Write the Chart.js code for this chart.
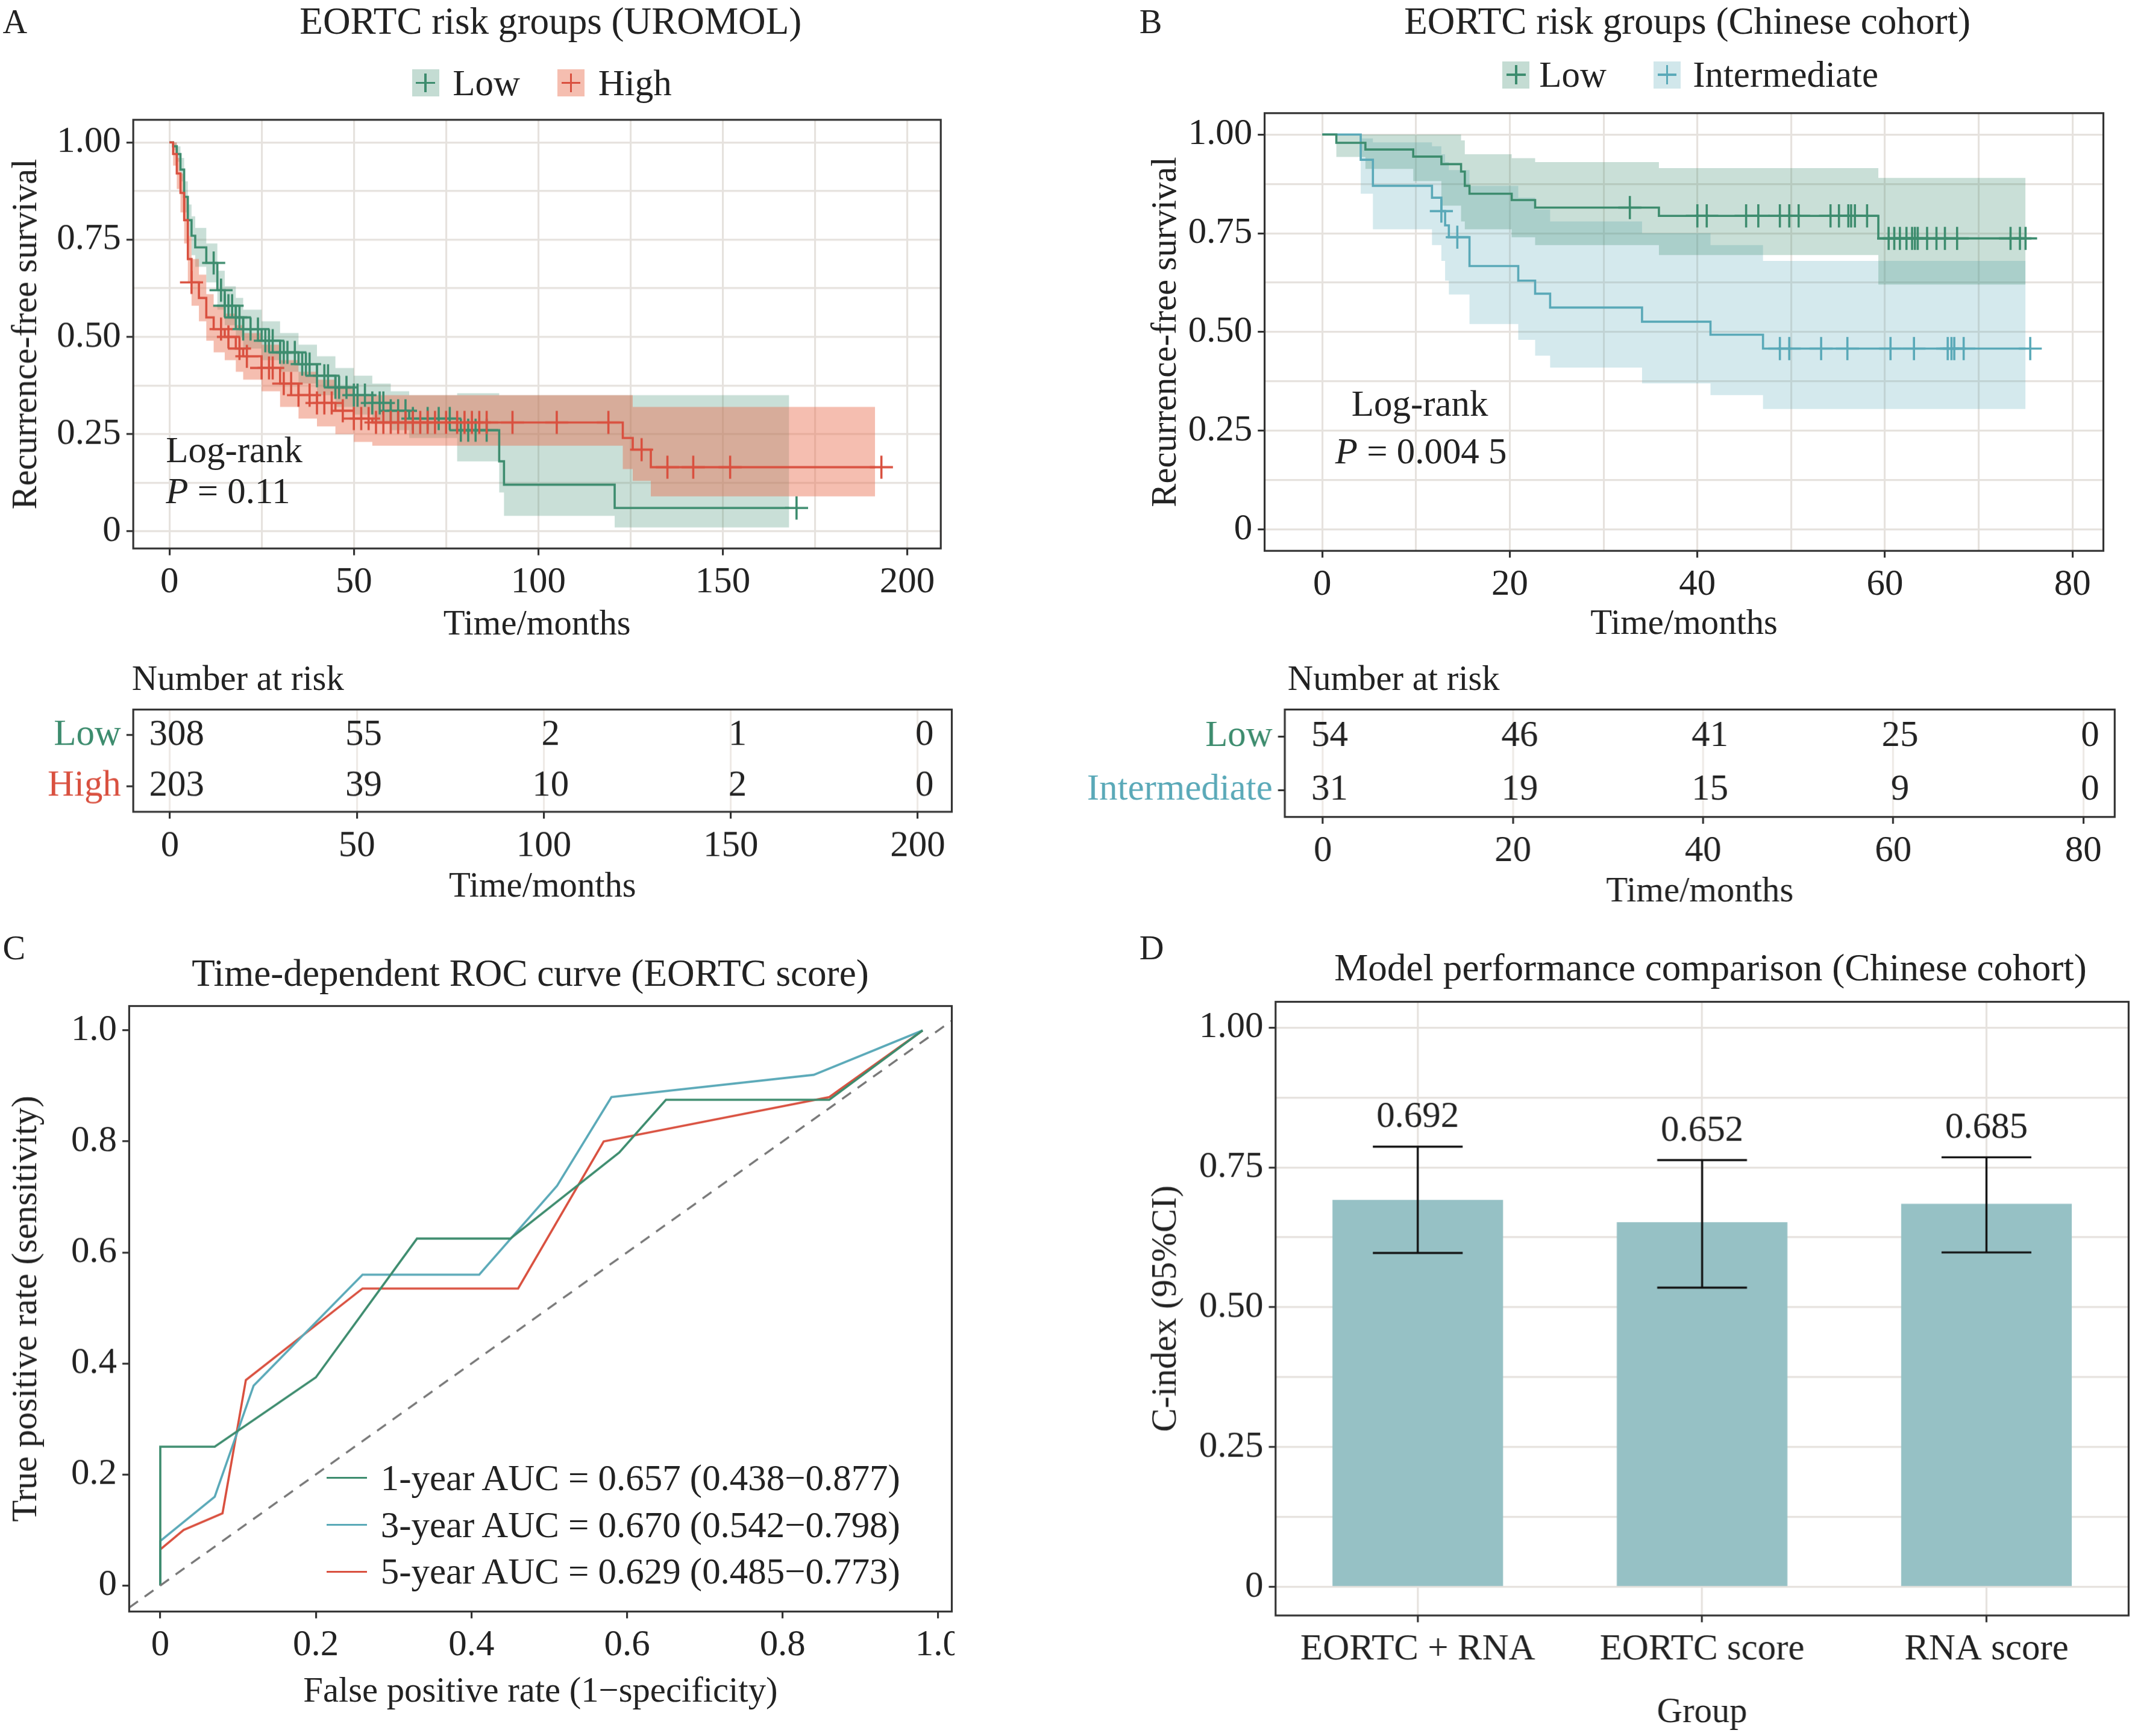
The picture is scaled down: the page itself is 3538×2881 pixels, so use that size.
<!DOCTYPE html>
<html>
<head>
<meta charset="utf-8">
<script src="https://cdn.jsdelivr.net/npm/chart.js@4.4.1/dist/chart.umd.min.js"></script>
<style>
  html, body { margin: 0; padding: 0; background: #fff; }
  body { width: 3538px; height: 2881px; position: relative; overflow: hidden; font-family: "Liberation Serif", serif; color: #222; }
  .box { position: absolute; }
  .txt { position: absolute; white-space: nowrap; line-height: 1; }
</style>
</head>
<body>
<script>
// ---- data ----
// Panel A, UROMOL
const aTimeLow = [0, 1, 2, 3, 4, 5, 6, 7, 10, 13, 15, 18, 20, 25, 30, 35, 40, 45, 50, 55, 60, 65, 78, 89.4, 90.7, 120.7, 168]
const aSurvLow = [1, 0.99, 0.97, 0.93, 0.86, 0.80, 0.76, 0.73, 0.69, 0.62, 0.58, 0.55, 0.52, 0.49, 0.46, 0.43, 0.40, 0.37, 0.35, 0.33, 0.31, 0.29, 0.26, 0.18, 0.12, 0.06, 0.06]
const aUpLow = [1, 1, 0.99, 0.96, 0.90, 0.84, 0.81, 0.78, 0.74, 0.67, 0.63, 0.60, 0.57, 0.54, 0.51, 0.48, 0.45, 0.42, 0.40, 0.38, 0.36, 0.35, 0.355, 0.35, 0.35, 0.35, 0.35]
const aLoLow = [1, 0.98, 0.95, 0.90, 0.82, 0.76, 0.71, 0.68, 0.64, 0.57, 0.53, 0.50, 0.47, 0.44, 0.41, 0.38, 0.35, 0.32, 0.30, 0.28, 0.26, 0.24, 0.18, 0.10, 0.04, 0.01, 0.01]
const aCensLow = [12, 14, 15, 16, 17, 18, 19, 20, 22, 24, 26, 27, 28, 30, 31, 32, 34, 36, 37, 38, 40, 42, 43, 45, 46, 48, 50, 51, 53, 55, 57, 58, 60, 62, 64, 66, 70, 73, 76, 79, 81, 83, 86, 170]
const aTimeHigh = [0, 1, 2, 3, 4, 5, 6, 8, 10, 12, 15, 18, 20, 25, 30, 35, 40, 45, 50, 55, 122.9, 125.6, 130.5, 191.3]
const aSurvHigh = [1, 0.97, 0.92, 0.87, 0.80, 0.70, 0.64, 0.60, 0.55, 0.52, 0.50, 0.47, 0.45, 0.42, 0.38, 0.35, 0.33, 0.31, 0.29, 0.28, 0.24, 0.21, 0.165, 0.165]
const aUpHigh = [1, 1, 0.96, 0.92, 0.86, 0.76, 0.70, 0.66, 0.61, 0.58, 0.56, 0.53, 0.51, 0.48, 0.44, 0.41, 0.39, 0.37, 0.35, 0.35, 0.35, 0.32, 0.32, 0.32]
const aLoHigh = [1, 0.94, 0.88, 0.82, 0.74, 0.64, 0.58, 0.54, 0.49, 0.46, 0.44, 0.41, 0.39, 0.36, 0.32, 0.29, 0.27, 0.25, 0.23, 0.22, 0.16, 0.13, 0.09, 0.09]
const aCensHigh = [6, 14, 16, 19, 21, 25, 27, 28, 31, 33, 35, 38, 40, 42, 44, 47, 50, 52, 54, 56, 58, 60, 62, 64, 66, 68, 70, 72, 75, 78, 80, 82, 84, 86, 93, 105, 119, 128, 135, 142, 152, 193]

// Panel B, Chinese cohort
const bTimeLow = [0, 1.5, 4.6, 9.7, 12.7, 14.8, 15.2, 15.7, 20.2, 22.7, 35.9, 59.3, 75]
const bSurvLow = [1, 0.979, 0.962, 0.944, 0.925, 0.906, 0.87, 0.85, 0.834, 0.815, 0.794, 0.737, 0.737]
const bUpLow = [1, 1, 1, 1, 1, 0.985, 0.95, 0.95, 0.94, 0.93, 0.915, 0.89, 0.89]
const bLoLow = [1, 0.943, 0.913, 0.882, 0.82, 0.78, 0.76, 0.76, 0.74, 0.72, 0.695, 0.62, 0.62]
const bCensLow = [32.8, 40, 41, 45.2, 46.5, 48.8, 49.8, 50.8, 54.2, 55.1, 56.1, 56.4, 56.8, 58.1, 60.4, 61, 61.6, 62.3, 62.9, 63.2, 63.5, 64.5, 65.5, 66.4, 67.7, 73.4, 74.4, 75]
const bTimeInt = [0, 4.1, 5.4, 11.7, 12.7, 13.1, 13.5, 15.7, 20.9, 22.7, 24.3, 34.1, 41.4, 47.0, 75]
const bSurvInt = [1, 0.936, 0.87, 0.84, 0.806, 0.77, 0.74, 0.667, 0.63, 0.597, 0.562, 0.526, 0.493, 0.458, 0.458]
const bUpInt = [1, 0.99, 0.98, 0.97, 0.95, 0.93, 0.91, 0.87, 0.84, 0.81, 0.78, 0.75, 0.72, 0.68, 0.68]
const bLoInt = [1, 0.85, 0.76, 0.72, 0.68, 0.63, 0.595, 0.52, 0.48, 0.44, 0.41, 0.37, 0.34, 0.305, 0.305]
const bCensInt = [12.7, 14.4, 48.8, 49.8, 53.2, 56, 60.6, 63.1, 66.7, 67.1, 67.4, 68.4, 75.5]

// Number at risk
const riskGroupsA = ["Low", "High"]
const riskTicksA = [0, 50, 100, 150, 200]
const riskA = [[308, 55, 2, 1, 0], [203, 39, 10, 2, 0]]
const riskGroupsB = ["Low", "Intermediate"]
const riskTicksB = [0, 20, 40, 60, 80]
const riskB = [[54, 46, 41, 25, 0], [31, 19, 15, 9, 0]]

// Panel C, ROC
const roc1x = [0, 0, 0.07, 0.2, 0.33, 0.45, 0.59, 0.65, 0.86, 0.98]
const roc1y = [0, 0.25, 0.25, 0.375, 0.625, 0.625, 0.78, 0.875, 0.875, 1.0]
const roc3x = [0, 0, 0.07, 0.12, 0.26, 0.41, 0.51, 0.58, 0.84, 0.98]
const roc3y = [0, 0.08, 0.16, 0.36, 0.56, 0.56, 0.72, 0.88, 0.92, 1.0]
const roc5x = [0, 0, 0.03, 0.08, 0.11, 0.26, 0.46, 0.57, 0.86, 0.98]
const roc5y = [0, 0.065, 0.1, 0.13, 0.37, 0.535, 0.535, 0.8, 0.88, 1.0]
const rocLabels = ["1-year AUC = 0.657 (0.438\u22120.877)", "3-year AUC = 0.670 (0.542\u22120.798)", "5-year AUC = 0.629 (0.485\u22120.773)"]

// Panel D, C-index
const models = ["EORTC + RNA", "EORTC score", "RNA score"]
const cIndex = [0.692, 0.652, 0.685]
const ciLow = [0.597, 0.535, 0.598]
const ciHigh = [0.787, 0.763, 0.768]

// tick labels
const kmYTicks = [0, 0.25, 0.5, 0.75, 1]
const kmYLabels = ["0", "0.25", "0.50", "0.75", "1.00"]
const aXTicks = [0, 50, 100, 150, 200]
const bXTicks = [0, 20, 40, 60, 80]
const rocTicks = [0, 0.2, 0.4, 0.6, 0.8, 1.0]
const rocLabelsTick = ["0", "0.2", "0.4", "0.6", "0.8", "1.0"]

// ---- helpers ----
const S = 3538 / 1568
const px = (v) => v * S
const FONT = "Liberation Serif"
const GREEN = "#3d8c6e", RED = "#d9503f", TEAL = "#5aa9b8"
const GRID = "#e6e2de"
const TICK = 27, TITLE = 28, AXT = 26
Chart.defaults.font.family = FONT
Chart.defaults.font.size = px(TICK)
Chart.defaults.color = "#222"
Chart.defaults.animation = false

function addText(str, x, y, size, opts = {}) {
  const d = document.createElement("div")
  d.className = "txt"
  d.innerHTML = str
  d.style.left = px(x) + "px"
  d.style.top = px(y) + "px"
  d.style.fontSize = px(size) + "px"
  const ax = opts.align === "left" ? "0" : "-50%"
  d.style.transform = "translate(" + ax + ",-50%)"
  if (opts.color) d.style.color = opts.color
  document.body.appendChild(d)
  return d
}

function mk(l, t, r, b) {
  const d = document.createElement("div")
  d.className = "box"
  d.style.left = px(l) + "px"
  d.style.top = px(t) + "px"
  d.style.width = px(r - l) + "px"
  d.style.height = px(b - t) + "px"
  const c = document.createElement("canvas")
  d.appendChild(c)
  document.body.appendChild(d)
  return c
}

function stepAt(times, surv, t) {
  let v = surv[0]
  for (let i = 0; i < times.length; i++) if (times[i] <= t) v = surv[i]
  return v
}
const pts = (xs, ys) => xs.map((x, i) => ({ x: x, y: ys[i] }))

const frame = {
  id: "frame",
  afterDraw(chart) {
    const a = chart.chartArea, ctx = chart.ctx
    ctx.save()
    ctx.strokeStyle = "#333"
    ctx.lineWidth = px(1.4)
    ctx.strokeRect(a.left, a.top, a.right - a.left, a.bottom - a.top)
    ctx.restore()
  },
}

function fixedTicks(vals) {
  return (s) => { s.ticks = vals.map((v) => ({ value: v })) }
}
function withMinor(vals) {
  const out = []
  for (let i = 0; i < vals.length; i++) {
    out.push(vals[i])
    if (i < vals.length - 1) out.push((vals[i] + vals[i + 1]) / 2)
  }
  return out
}
// fixed axis size and no extra label padding, so the plot areas land where they should
function fitFixed(w, h) {
  return (s) => {
    if (w) s.width = px(w)
    if (h) s.height = px(h)
    s.paddingTop = 0; s.paddingBottom = 0; s.paddingLeft = 0; s.paddingRight = 0
  }
}

function linAxis(o) {
  const majors = o.ticks
  const all = o.minor ? withMinor(majors) : majors
  return {
    type: "linear",
    min: o.min, max: o.max,
    afterBuildTicks: fixedTicks(all),
    afterFit: fitFixed(o.w, o.h),
    border: { display: false },
    grid: {
      display: true,
      drawOnChartArea: o.grid !== false,
      color: GRID,
      lineWidth: px(1.4),
      tickLength: px(5),
      tickWidth: px(1.4),
      tickColor: (c) => (majors.includes(c.tick.value) ? "#333" : "rgba(0,0,0,0)"),
    },
    ticks: {
      padding: px(4),
      font: { size: px(TICK) },
      color: "#222",
      autoSkip: false,
      maxRotation: 0,
      callback: (v) => {
        const i = majors.indexOf(v)
        return i < 0 ? "" : (o.labels ? o.labels[i] : String(v))
      },
    },
    title: o.title ? { display: true, text: o.title, font: { size: px(AXT) }, padding: { top: px(4), bottom: 0 } } : { display: false },
  }
}

function kmSets(times, surv, up, lo, cens, line, band) {
  return [
    { data: pts(times, up), stepped: true, borderWidth: 0, pointRadius: 0, backgroundColor: band, fill: "+1", order: 5 },
    { data: pts(times, lo), stepped: true, borderWidth: 0, pointRadius: 0, fill: false, order: 5 },
    { data: pts(times, surv), stepped: true, borderColor: line, borderWidth: px(1.6), pointRadius: 0, fill: false, order: 2 },
    { data: cens.map((t) => ({ x: t, y: stepAt(times, surv, t) })), showLine: false, pointStyle: "cross", pointRadius: px(8.5), pointBorderColor: line, pointBorderWidth: px(1.6), order: 1 },
  ]
}

function kmChart(canvas, sets, x, y) {
  return new Chart(canvas, {
    type: "line",
    data: { datasets: sets },
    options: {
      responsive: true, maintainAspectRatio: false, devicePixelRatio: 1,
      layout: { padding: { top: px(2), right: px(2), left: 0, bottom: 0 } },
      scales: { x: x, y: y },
      plugins: { legend: { display: false }, tooltip: { enabled: false }, filler: { propagate: false } },
    },
    plugins: [frame],
  })
}

function legendKey(x, y, line, band) {
  const d = document.createElement("div")
  d.className = "box"
  const w = px(20)
  d.style.left = px(x) - w / 2 + "px"
  d.style.top = px(y) - w / 2 + "px"
  d.style.width = w + "px"
  d.style.height = w + "px"
  d.style.background = band
  d.innerHTML = '<div style="position:absolute;left:' + (w / 2 - px(0.8)) + 'px;top:' + px(3) + 'px;width:' + px(1.6) + 'px;height:' + (w - px(6)) + 'px;background:' + line + '"></div>' +
    '<div style="position:absolute;top:' + (w / 2 - px(0.8)) + 'px;left:' + px(3) + 'px;height:' + px(1.6) + 'px;width:' + (w - px(6)) + 'px;background:' + line + '"></div>'
  document.body.appendChild(d)
}

function riskChart(canvas, groups, colors, ticks, rows, xmin, xmax, yw) {
  const numbers = {
    id: "numbers",
    afterDraw(chart) {
      const ctx = chart.ctx, xs = chart.scales.x, ys = chart.scales.y
      ctx.save()
      ctx.font = px(TICK) + "px '" + FONT + "'"
      ctx.fillStyle = "#222"
      ctx.textAlign = "center"
      ctx.textBaseline = "middle"
      rows.forEach((row, r) => {
        row.forEach((n, j) => {
          ctx.fillText(String(n), xs.getPixelForValue(ticks[j]) + px(5), ys.getPixelForValue(r))
        })
      })
      ctx.restore()
    },
  }
  const x = linAxis({ min: xmin, max: xmax, ticks: ticks, h: 71, title: "Time/months" })
  x.grid.color = "#eeeae6"
  return new Chart(canvas, {
    type: "scatter",
    data: { datasets: [] },
    options: {
      responsive: true, maintainAspectRatio: false, devicePixelRatio: 1,
      layout: { padding: { top: px(2), right: px(2) } },
      scales: {
        x: x,
        y: {
          type: "category", labels: groups, offset: true,
          afterFit: fitFixed(yw, 0),
          border: { display: false },
          grid: { offset: false, drawOnChartArea: false, tickLength: px(5), tickWidth: px(1.4), tickColor: "#333" },
          ticks: { padding: px(4), autoSkip: false, font: { size: px(TICK) }, color: (c) => colors[c.index] },
        },
      },
      plugins: { legend: { display: false }, tooltip: { enabled: false } },
    },
    plugins: [frame, numbers],
  })
}

// ---- Panel A ----
addText("A", 2, 16, 25, { align: "left" })
addText("EORTC risk groups (UROMOL)", 405, 16, TITLE)
legendKey(313, 61, GREEN, "rgba(61,140,110,0.3)")
addText("Low", 333, 61, 27, { align: "left" })
legendKey(420, 61, RED, "rgba(232,110,80,0.45)")
addText("High", 440, 61, 27, { align: "left" })

kmChart(
  mk(0, 78, 702, 475),
  [
    ...kmSets(aTimeHigh, aSurvHigh, aUpHigh, aLoHigh, aCensHigh, RED, "rgba(232,110,80,0.45)"),
    ...kmSets(aTimeLow, aSurvLow, aUpLow, aLoLow, aCensLow, GREEN, "rgba(61,140,110,0.28)"),
  ],
  linAxis({ min: -9.8, max: 209.1, ticks: aXTicks, minor: true, h: 72, title: "Time/months" }),
  linAxis({ min: -0.044, max: 1.058, ticks: kmYTicks, labels: kmYLabels, minor: true, w: 98, title: "Recurrence-free survival" })
)
addText("Log-rank", 122, 331, 27, { align: "left" })
addText("<i>P</i> = 0.11", 122, 361, 27, { align: "left" })

addText("Number at risk", 97, 499, 26, { align: "left" })
riskChart(mk(0, 520, 702, 668), riskGroupsA, [GREEN, RED], riskTicksA, riskA, -9.8, 209.1, 98)

// ---- Panel B ----
addText("B", 838, 16, 25, { align: "left" })
addText("EORTC risk groups (Chinese cohort)", 1241, 16, TITLE)
legendKey(1115, 55, GREEN, "rgba(61,140,110,0.3)")
addText("Low", 1132, 55, 27, { align: "left" })
legendKey(1226, 55, TEAL, "rgba(90,169,184,0.28)")
addText("Intermediate", 1245, 55, 27, { align: "left" })

kmChart(
  mk(838, 73, 1557, 475),
  [
    ...kmSets(bTimeLow, bSurvLow, bUpLow, bLoLow, bCensLow, GREEN, "rgba(61,140,110,0.28)"),
    ...kmSets(bTimeInt, bSurvInt, bUpInt, bLoInt, bCensInt, TEAL, "rgba(90,169,184,0.26)"),
  ],
  linAxis({ min: -6.15, max: 83.3, ticks: bXTicks, minor: true, h: 70, title: "Time/months" }),
  linAxis({ min: -0.054, max: 1.054, ticks: kmYTicks, labels: kmYLabels, minor: true, w: 92, title: "Recurrence-free survival" })
)
addText("Log-rank", 994, 297, 27, { align: "left" })
addText("<i>P</i> = 0.004 5", 982, 332, 27, { align: "left" })

addText("Number at risk", 947, 499, 26, { align: "left" })
riskChart(mk(770, 520, 1557, 672), riskGroupsB, [GREEN, TEAL], riskTicksB, riskB, -4.0, 83.3, 175)

// ---- Panel C ----
addText("C", 2, 697, 25, { align: "left" })
addText("Time-dependent ROC curve (EORTC score)", 390, 716, TITLE)
const rocColors = [GREEN, TEAL, RED]
new Chart(mk(0, 738, 702, 1260), {
  type: "line",
  data: {
    datasets: [
      { data: pts([-0.06, 1.06], [-0.06, 1.06]), borderColor: "#777", borderDash: [px(8), px(6)], borderWidth: px(1.5), pointRadius: 0 },
      { data: pts(roc1x, roc1y), borderColor: rocColors[0], borderWidth: px(1.6), pointRadius: 0 },
      { data: pts(roc3x, roc3y), borderColor: rocColors[1], borderWidth: px(1.6), pointRadius: 0 },
      { data: pts(roc5x, roc5y), borderColor: rocColors[2], borderWidth: px(1.6), pointRadius: 0 },
    ],
  },
  options: {
    responsive: true, maintainAspectRatio: false, devicePixelRatio: 1,
    layout: { padding: { top: px(2), right: px(2) } },
    scales: {
      x: linAxis({ min: -0.04, max: 1.0175, ticks: rocTicks, labels: rocLabelsTick, grid: false, h: 75, title: "False positive rate (1\u2212specificity)" }),
      y: linAxis({ min: -0.047, max: 1.044, ticks: rocTicks, labels: rocLabelsTick, grid: false, w: 95, title: "True positive rate (sensitivity)" }),
    },
    plugins: { legend: { display: false }, tooltip: { enabled: false } },
  },
  plugins: [frame],
})
rocLabels.forEach((lab, i) => {
  const y = 1087 + i * 34.5
  const l = document.createElement("div")
  l.className = "box"
  l.style.left = px(240) + "px"
  l.style.top = px(y) - px(0.8) + "px"
  l.style.width = px(30) + "px"
  l.style.height = px(1.6) + "px"
  l.style.background = rocColors[i]
  document.body.appendChild(l)
  addText(lab, 280, y, 27, { align: "left" })
})

// ---- Panel D ----
addText("D", 838, 697, 25, { align: "left" })
addText("Model performance comparison (Chinese cohort)", 1258, 712, TITLE)
const errBars = {
  id: "errBars",
  afterDatasetsDraw(chart) {
    const ctx = chart.ctx, xs = chart.scales.x, ys = chart.scales.y
    ctx.save()
    ctx.strokeStyle = "#111"
    ctx.lineWidth = px(1.5)
    ctx.font = px(27) + "px '" + FONT + "'"
    ctx.fillStyle = "#222"
    ctx.textAlign = "center"
    ctx.textBaseline = "bottom"
    models.forEach((m, i) => {
      const x = xs.getPixelForValue(i)
      const y0 = ys.getPixelForValue(ciLow[i]), y1 = ys.getPixelForValue(ciHigh[i])
      const hw = px(33)
      ctx.beginPath()
      ctx.moveTo(x, y0); ctx.lineTo(x, y1)
      ctx.moveTo(x - hw, y0); ctx.lineTo(x + hw, y0)
      ctx.moveTo(x - hw, y1); ctx.lineTo(x + hw, y1)
      ctx.stroke()
      ctx.fillText(cIndex[i].toFixed(3), x, y1 - px(8))
    })
    ctx.restore()
  },
}
new Chart(mk(838, 735, 1567, 1275), {
  type: "bar",
  data: {
    labels: models,
    datasets: [{ data: cIndex, backgroundColor: "#96c1c5", barPercentage: 0.6, categoryPercentage: 1.0 }],
  },
  options: {
    responsive: true, maintainAspectRatio: false, devicePixelRatio: 1,
    layout: { padding: { top: px(2), right: px(2) } },
    scales: {
      x: {
        type: "category",
        afterFit: fitFixed(0, 87),
        border: { display: false },
        grid: { offset: false, color: GRID, lineWidth: px(1.4), tickLength: px(5), tickWidth: px(1.4), tickColor: "#333" },
        ticks: { padding: px(4), font: { size: px(TICK) }, color: "#222" },
        title: { display: true, text: "Group", font: { size: px(AXT) }, padding: { top: px(4), bottom: 0 } },
      },
      y: linAxis({ min: -0.051, max: 1.046, ticks: kmYTicks, labels: kmYLabels, minor: true, w: 100, title: "C-index (95%CI)" }),
    },
    plugins: { legend: { display: false }, tooltip: { enabled: false } },
  },
  plugins: [frame, errBars],
})
</script>
</body>
</html>
